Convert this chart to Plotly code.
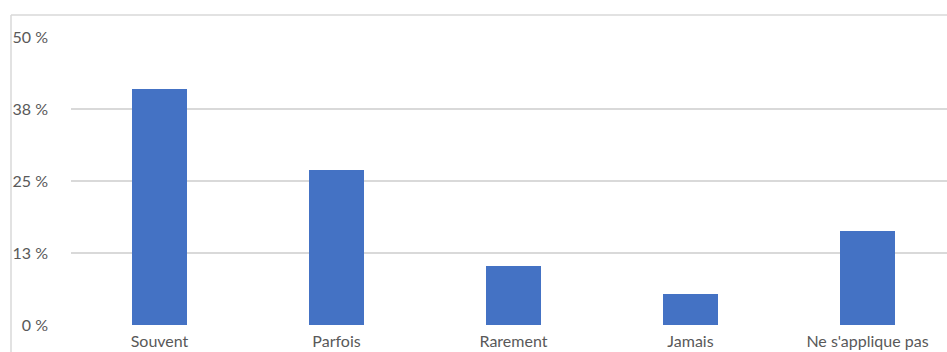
import plotly.graph_objects as go

categories = ["Souvent", "Parfois", "Rarement", "Jamais", "Ne s'applique pas"]
values = [41.0, 26.9, 10.3, 5.4, 16.3]
tick_vals = [0, 12.5, 25, 37.5, 50]
tick_text = ["0 %", "13 %", "25 %", "38 %", "50 %"]

W, H = 947, 352
ml, mr, mt, mb = 71, 0, 37, 27
pw = W - ml - mr
ph = H - mt - mb
cat_px = 177.0

fig = go.Figure(go.Bar(
    x=categories, y=values,
    marker=dict(color="#4472C4", line=dict(width=0)),
    width=0.313,
    hoverinfo="skip",
))

fig.update_layout(
    width=W, height=H,
    margin=dict(l=ml, r=mr, t=mt, b=mb, autoexpand=False),
    paper_bgcolor="white", plot_bgcolor="white",
    font=dict(family="Lato, 'Open Sans', sans-serif", size=16, color="#595959"),
    showlegend=False,
    bargap=0,
)
fig.update_xaxes(
    range=[-0.5, -0.5 + pw / cat_px],
    showgrid=False, showline=False, zeroline=False,
    ticks="", ticklabelstandoff=5,
    tickfont=dict(size=16, color="#595959"),
    automargin=False,
)
fig.update_yaxes(
    range=[0, 50],
    tickvals=tick_vals, ticktext=tick_text,
    showgrid=True, gridcolor="#d9d9d9", gridwidth=1.5,
    zeroline=False, showline=False, ticks="",
    ticklabelstandoff=22,
    tickfont=dict(size=16, color="#595959"),
    automargin=False,
)

# outer chart-area border (left and top edges visible in the crop)
bx = (11 - ml) / pw
by = (H - mb - 15) / ph
fig.add_shape(type="line", xref="paper", yref="paper",
              x0=bx, x1=bx, y0=by, y1=(H - mb - 400) / ph,
              line=dict(color="#d9d9d9", width=1.5))
fig.add_shape(type="line", xref="paper", yref="paper",
              x0=bx, x1=(W + 20 - ml) / pw, y0=by, y1=by,
              line=dict(color="#d9d9d9", width=1.5))

fig.write_html("out.html")
